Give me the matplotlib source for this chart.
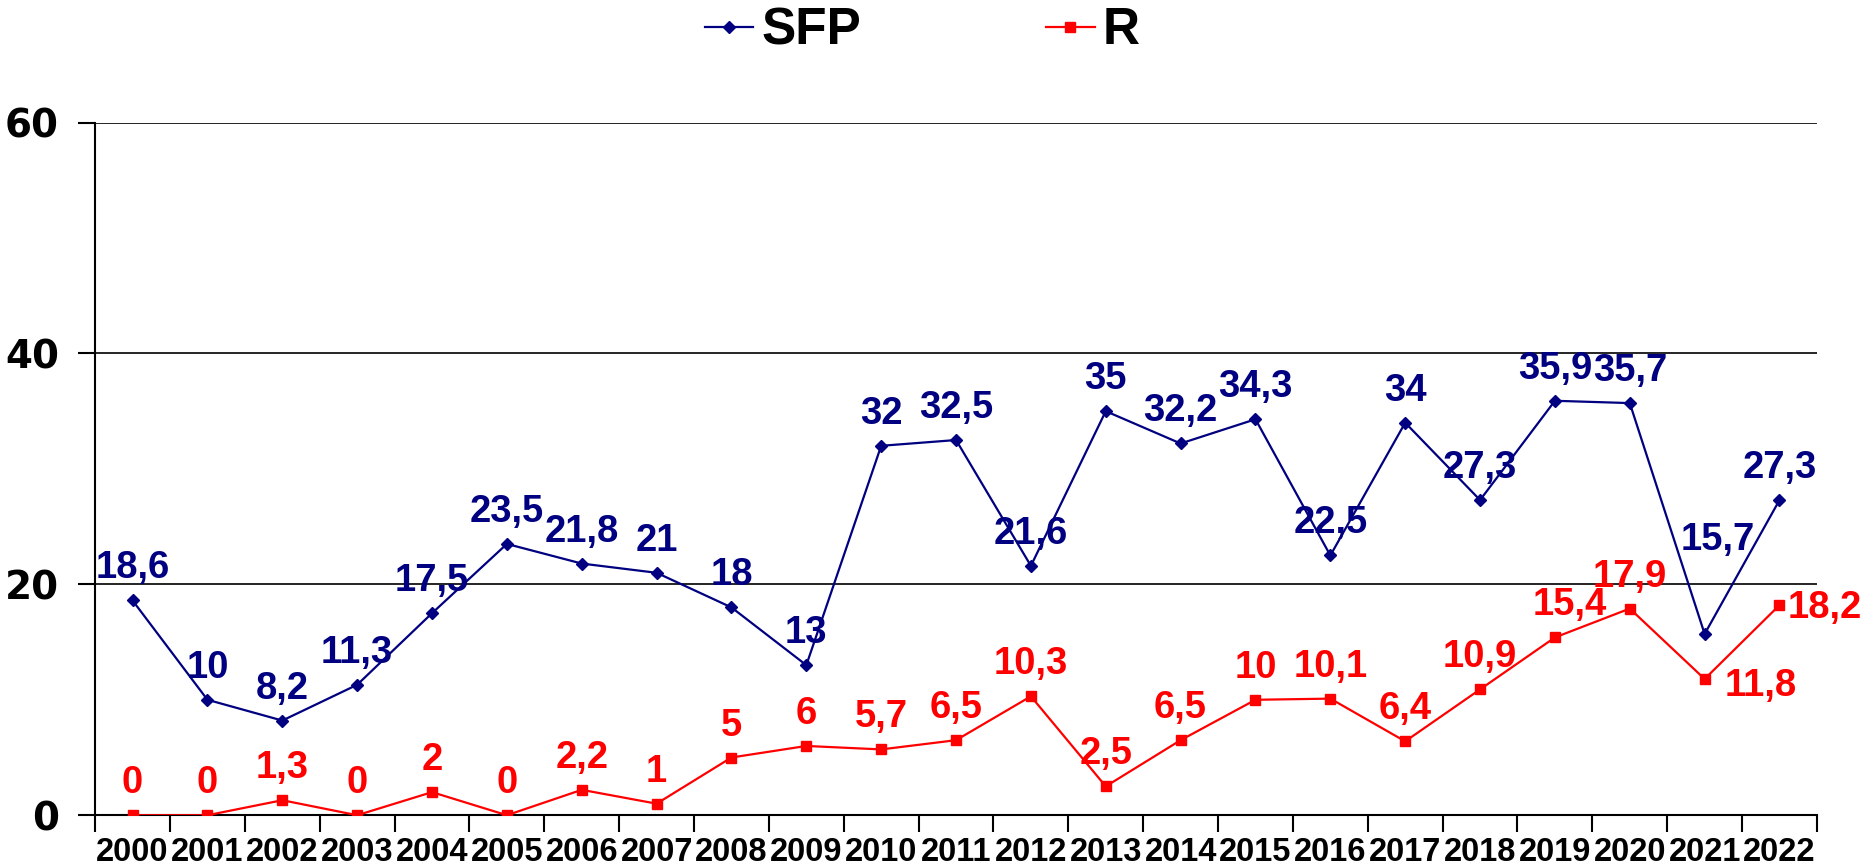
import matplotlib
matplotlib.use("Agg")
import matplotlib.pyplot as plt
from matplotlib.ticker import FixedLocator

years = [str(y) for y in range(2000, 2023)]
sfp = [18.6, 10, 8.2, 11.3, 17.5, 23.5, 21.8, 21, 18, 13, 32, 32.5, 21.6,
       35, 32.2, 34.3, 22.5, 34, 27.3, 35.9, 35.7, 15.7, 27.3]
r = [0, 0, 1.3, 0, 2, 0, 2.2, 1, 5, 6, 5.7, 6.5, 10.3,
     2.5, 6.5, 10, 10.1, 6.4, 10.9, 15.4, 17.9, 11.8, 18.2]

navy = "#000080"
red = "#FF0000"
lab_font = "Liberation Sans"
lab_size = 27.5

fig = plt.figure(figsize=(18.66, 8.68), dpi=100)
ax = fig.add_axes([0.051, 0.0608, 0.9227, 0.798])

x = list(range(len(years)))
ax.plot(x, sfp, color=navy, lw=1.6, marker="D", ms=6, label="SFP", zorder=3)
ax.plot(x, r, color=red, lw=1.6, marker="s", ms=7.5, label="R", zorder=3)

ax.set_xlim(-0.5, len(years) - 0.5)
ax.set_ylim(0, 60)
ax.set_yticks([0, 20, 40, 60])
ax.yaxis.grid(True, color="black", lw=1.2)
ax.set_axisbelow(True)

ax.xaxis.set_major_locator(FixedLocator([i - 0.5 for i in range(len(years) + 1)]))
ax.xaxis.set_minor_locator(FixedLocator(x))
ax.set_xticklabels([""] * (len(years) + 1))
ax.set_xticklabels(years, minor=True)
ax.tick_params(axis="x", which="major", length=12, width=1.5, direction="out")
ax.tick_params(axis="x", which="minor", length=0, pad=16)
ax.tick_params(axis="y", length=12, width=1.5, direction="out", pad=14)
for t in ax.get_xticklabels(minor=True):
    t.set_fontfamily(lab_font)
    t.set_fontweight("bold")
    t.set_fontsize(23.5)
for t in ax.get_yticklabels():
    t.set_fontfamily("DejaVu Sans")
    t.set_fontweight("bold")
    t.set_fontsize(28)

for s in ["top", "right"]:
    ax.spines[s].set_visible(False)
ax.spines["left"].set_linewidth(1.5)
ax.spines["bottom"].set_linewidth(1.5)


def fmt(v):
    return ("%g" % v).replace(".", ",")


# offsets in pixels (dx, dy) for baseline of each label, default above the point
sfp_off = {21: (13, 84)}
r_off = {19: (15, 22)}
for i, v in enumerate(sfp):
    dx, dy = sfp_off.get(i, (0, 22))
    ax.annotate(fmt(v), (i, v), xytext=(dx, dy), textcoords="offset pixels",
                ha="center", va="baseline", color=navy, fontsize=lab_size,
                fontweight="bold", family=lab_font, zorder=4)
for i, v in enumerate(r):
    if i == 21:
        ax.annotate(fmt(v), (i, v), xytext=(20, -7), textcoords="offset pixels",
                    ha="left", va="center", color=red, fontsize=lab_size,
                    fontweight="bold", family=lab_font, zorder=4)
        continue
    if i == 22:
        ax.annotate(fmt(v), (i, v), xytext=(8, -3), textcoords="offset pixels",
                    ha="left", va="center", color=red, fontsize=lab_size,
                    fontweight="bold", family=lab_font, zorder=4)
        continue
    dx, dy = r_off.get(i, (0, 22))
    ax.annotate(fmt(v), (i, v), xytext=(dx, dy), textcoords="offset pixels",
                ha="center", va="baseline", color=red, fontsize=lab_size,
                fontweight="bold", family=lab_font, zorder=4)

fig.legend(loc="center", bbox_to_anchor=(922 / 1866, 1 - 31 / 868), ncol=2,
           frameon=False, prop={"family": lab_font, "weight": "bold", "size": 37},
           handlelength=0.95, handletextpad=0.15, columnspacing=3.6,
           borderpad=0.1)

fig.savefig("out.png", dpi=100)
